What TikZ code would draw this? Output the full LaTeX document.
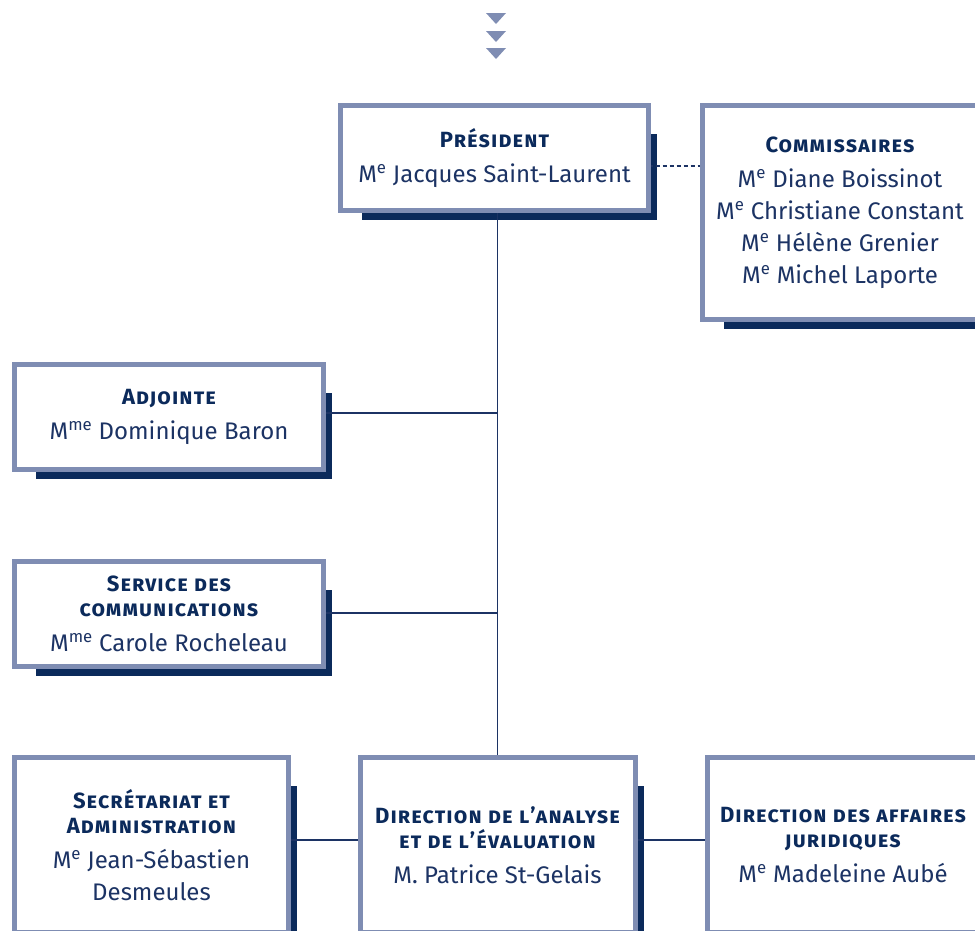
\documentclass[tikz,border=0pt]{standalone}
\usepackage{fontspec}
\setmainfont{Fira Sans}
\usetikzlibrary{positioning,calc,backgrounds}
\definecolor{frame}{HTML}{7F8DB3}
\definecolor{navy}{HTML}{0B2A5B}
\definecolor{ink}{HTML}{1C3364}
\tikzset{
  unitbox/.style={draw=frame,fill=white,line width=5pt,outer sep=0pt,inner sep=0pt,
    align=center,text=ink,font=\fontsize{24}{32}\selectfont},
  link/.style={draw=ink,line width=1.3pt},
}
\newcommand\hd[1]{{\fontsize{22}{32}\selectfont\bfseries\scshape\addfontfeatures{LetterSpace=5}\color{navy}#1}}
\newcommand\me{M\textsuperscript{e}}
\newcommand\mme{M\textsuperscript{me}}

\begin{document}
\begin{tikzpicture}[x=1pt,y=-1pt]
\useasboundingbox (0,0) rectangle (975,930);
% arrows on top
\foreach \y in {13,31,48}
  \fill[frame] (486,\y) -- (506,\y) -- (496,\y+11) -- cycle;
% boxes
\node[unitbox,minimum width=308,minimum height=105] (pres) at (494.5,158)
  {\hd{Président}\\[3pt] \me{} Jacques Saint-Laurent};
\node[unitbox,minimum width=275,minimum height=214] (comm) at (840,212.5)
  {\hd{Commissaires}\\[3pt] \me{} Diane Boissinot\\ \me{} Christiane Constant\\
   \me{} Hélène Grenier\\ \me{} Michel Laporte};
\node[unitbox,minimum width=309,minimum height=105] (adj) at (169,417)
  {\hd{Adjointe}\\[3pt] \mme{} Dominique Baron};
\node[unitbox,minimum width=309,minimum height=105] (serv) at (169,614)
  {\hd{Service des}\\[-7pt] \hd{communications}\\[3pt] \mme{} Carole Rocheleau};
\node[unitbox,minimum width=274,minimum height=175] (secr) at (151.5,845)
  {\hd{Secrétariat et}\\[-7pt] \hd{Administration}\\[3pt] \me{} Jean-Sébastien\\ Desmeules};
\node[unitbox,minimum width=275,minimum height=175] (anal) at (497.5,845)
  {\hd{Direction de l’analyse}\\[-7pt] \hd{et de l’évaluation}\\[3pt] M. Patrice St-Gelais};
\node[unitbox,minimum width=271,minimum height=175] (jur) at (843,845)
  {\hd{Direction des affaires}\\[-7pt] \hd{juridiques}\\[3pt] \me{} Madeleine Aubé};
% shadows and links
\begin{scope}[on background layer]
\foreach \n in {pres,comm,adj,serv,secr,anal,jur}
  \fill[navy] ($(\n.south west)+(21.5,9.5)$) rectangle ($(\n.north east)+(8.5,28.5)$);
\draw[link] (pres.south -| anal.north) -- (anal.north);
\draw[link] ([yshift=4pt]adj.east) -- ([yshift=4pt]adj.east -| anal.north);
\draw[link] ([yshift=1pt]serv.east) -- ([yshift=1pt]serv.east -| anal.north);
\draw[link] ([yshift=5pt]secr.east) -- ([yshift=5pt]anal.west);
\draw[link] ([yshift=5pt]anal.east) -- ([yshift=5pt]jur.west);
\draw[link,dash pattern=on 4pt off 3pt] ([yshift=-8pt]pres.east) -- ([yshift=-8pt]pres.east -| comm.west);
\end{scope}
\end{tikzpicture}
\end{document}
